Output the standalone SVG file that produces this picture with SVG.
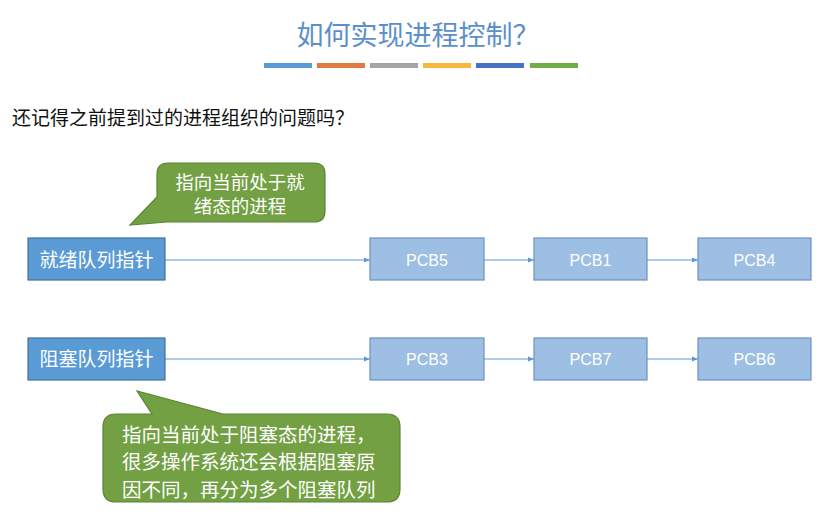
<svg xmlns="http://www.w3.org/2000/svg" width="836" height="524" viewBox="0 0 836 524">
<defs>
<style>
.t{font-family:"Noto Sans CJK SC","Liberation Sans",sans-serif;}
.q{fill:#5b9bd5;stroke:#41719c;stroke-width:1.2;}
.p{fill:#9dbfe3;stroke:#6d92c0;stroke-width:1.2;}
.pc{font-family:"Liberation Sans","Noto Sans CJK SC",sans-serif;font-size:16px;fill:#ffffff;text-anchor:middle;}
.lbl{font-size:19px;fill:#ffffff;text-anchor:middle;}
.call{fill:#72a043;stroke:#5a8434;stroke-width:1.2;}
.cn{stroke:#5b9bd5;stroke-width:1.2;fill:none;marker-end:url(#ah);}
</style>
<marker id="ah" viewBox="0 0 10 10" refX="10" refY="5" markerWidth="6" markerHeight="6" orient="auto" markerUnits="userSpaceOnUse">
<path d="M0,1 L10,5 L0,9 z" fill="#5b9bd5"/>
</marker>
</defs>
<rect width="836" height="524" fill="#ffffff"/>
<text class="t" x="418" y="45" font-size="27" fill="#5b8fcc" text-anchor="middle">如何实现进程控制？</text>
<g id="bars">
<rect x="264" y="63" width="48" height="5" fill="#5b9bd5"/>
<rect x="317" y="63" width="48" height="5" fill="#e07a3f"/>
<rect x="370" y="63" width="48" height="5" fill="#a5a5a5"/>
<rect x="423" y="63" width="48" height="5" fill="#f6b940"/>
<rect x="476" y="63" width="48" height="5" fill="#4472c4"/>
<rect x="530" y="63" width="48" height="5" fill="#70ad47"/>
</g>
<text class="t" x="12" y="125" font-size="19" fill="#111111">还记得之前提到过的进程组织的问题吗？</text>
<g id="connectors">
<line class="cn" x1="165" y1="260" x2="370" y2="260"/>
<line class="cn" x1="484" y1="260" x2="534" y2="260"/>
<line class="cn" x1="647" y1="260" x2="698" y2="260"/>
<line class="cn" x1="165" y1="359" x2="370" y2="359"/>
<line class="cn" x1="484" y1="359" x2="534" y2="359"/>
<line class="cn" x1="647" y1="359" x2="698" y2="359"/>
</g>
<g id="ready">
<rect class="q" x="28" y="238" width="137" height="42"/>
<text class="t lbl" x="96.5" y="266.5">就绪队列指针</text>
</g>
<g id="pcb5"><rect class="p" x="370" y="238" width="114" height="42"/><text class="pc" x="427" y="265.5">PCB5</text></g>
<g id="pcb1"><rect class="p" x="534" y="238" width="113" height="42"/><text class="pc" x="590.5" y="265.5">PCB1</text></g>
<g id="pcb4"><rect class="p" x="698" y="238" width="113" height="42"/><text class="pc" x="754.5" y="265.5">PCB4</text></g>
<g id="blocked">
<rect class="q" x="28" y="338" width="137" height="42"/>
<text class="t lbl" x="96.5" y="366">阻塞队列指针</text>
</g>
<g id="pcb3"><rect class="p" x="370" y="338" width="114" height="42"/><text class="pc" x="427" y="365">PCB3</text></g>
<g id="pcb7"><rect class="p" x="534" y="338" width="113" height="42"/><text class="pc" x="590.5" y="365">PCB7</text></g>
<g id="pcb6"><rect class="p" x="698" y="338" width="113" height="42"/><text class="pc" x="754.5" y="365">PCB6</text></g>
<g id="callout1">
<path class="call" d="M168,163 H314 Q325,163 325,174 V211 Q325,222 314,222 H167 L130,225 L157,197 V174 Q157,163 168,163 Z"/>
<text class="t" x="240" y="189" font-size="18.5" fill="#ffffff" text-anchor="middle">指向当前处于就</text>
<text class="t" x="240" y="213" font-size="18.5" fill="#ffffff" text-anchor="middle">绪态的进程</text>
</g>
<g id="callout2">
<path class="call" d="M116,414 H152 L137,391 L223,414 H387 Q400,414 400,427 V489 Q400,502 387,502 H116 Q103,502 103,489 V427 Q103,414 116,414 Z"/>
<text class="t" x="122" y="442" font-size="19.5" fill="#ffffff">指向当前处于阻塞态的进程，</text>
<text class="t" x="122" y="469" font-size="19.5" fill="#ffffff">很多操作系统还会根据阻塞原</text>
<text class="t" x="122" y="497" font-size="19.5" fill="#ffffff">因不同，再分为多个阻塞队列</text>
</g>
</svg>
